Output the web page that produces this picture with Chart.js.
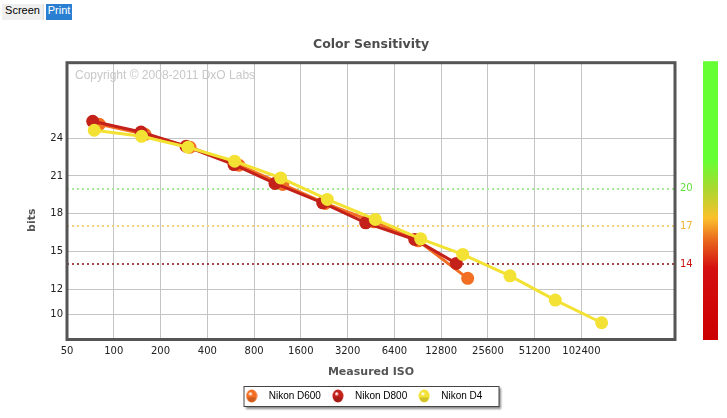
<!DOCTYPE html>
<html><head><meta charset="utf-8">
<script src="https://cdn.jsdelivr.net/npm/chart.js@4/dist/chart.umd.min.js"></script>
<style>
html,body{margin:0;padding:0;background:#fff;width:727px;height:418px;overflow:hidden;}
#wrap{position:relative;width:727px;height:418px;}
#c{position:absolute;left:0;top:0;}
.btn{position:absolute;top:4px;height:16px;line-height:16px;font:11px "Liberation Sans",Arial,sans-serif;text-align:center;}
#scr{left:2px;width:41px;background:#efefef;color:#000;border-right:1px solid #dcdcdc;}
#prt{left:46px;width:26px;background:#2a7fd2;color:#fff;}
</style></head><body>
<div id="wrap"><canvas id="c" width="727" height="418"></canvas>
<div class="btn" id="scr">Screen</div><div class="btn" id="prt">Print</div></div>
<script>
// ---- data ----
const seriesNames = ['Nikon D600', 'Nikon D800', 'Nikon D4'];
const isoD600  = [80.7, 158.8, 309.5, 640, 1223, 2299, 4731, 9121, 18965];
const bitsD600 = [25.10, 24.31, 23.28, 21.85, 20.32, 18.81, 17.35, 15.84, 12.86];
const isoD800  = [73.2, 149.7, 291.7, 594, 1090, 2212, 4183, 8647, 16020];
const bitsD800 = [25.34, 24.49, 23.36, 21.90, 20.40, 18.86, 17.27, 15.95, 14.05];
const isoD4    = [74.9, 151, 300, 600, 1187, 2368, 4823, 9454, 17620, 35500, 69450, 138100];
const bitsD4   = [24.63, 24.15, 23.28, 22.17, 20.84, 19.13, 17.54, 16.00, 14.76, 13.06, 11.13, 9.33];
const xTicks = [50, 100, 200, 400, 800, 1600, 3200, 6400, 12800, 25600, 51200, 102400];
const yTicks = [10, 12, 15, 18, 21, 24];
const thresholds = [20, 17, 14];

// ---- styles ----
const colors = ['#F26E22', '#C3211A', '#F3E233'];
const thrLine = ['#a6ec98', '#f5d27a', '#8b0a0a'];
const thrWidth = [2, 2, 1.3];
const thrText = ['#62dd3c', '#f0b631', '#c81414'];

function sphere(color) {
  const c = document.createElement('canvas');
  c.width = 12; c.height = 14;
  const g = c.getContext('2d');
  const grd = g.createRadialGradient(4.5, 4.5, 0.5, 6, 7, 7.5);
  grd.addColorStop(0, 'rgba(255,255,255,0.9)');
  grd.addColorStop(0.25, color);
  grd.addColorStop(1, color);
  g.fillStyle = grd;
  g.beginPath(); g.ellipse(6, 7, 5.5, 6.5, 0, 0, Math.PI * 2); g.fill();
  g.fillStyle = 'rgba(0,0,0,0.15)';
  g.beginPath(); g.ellipse(6, 8.5, 4.5, 4.5, 0, 0, Math.PI); g.fill();
  return c;
}
const markers = colors.map(sphere);

function mk(i, xs, ys, order) {
  return {
    label: seriesNames[i],
    data: xs.map((x, k) => ({x: x, y: ys[k]})),
    borderColor: colors[i], backgroundColor: colors[i],
    borderWidth: 3, pointRadius: 6.5, pointHoverRadius: 6.5, pointBorderWidth: 0,
    pointBackgroundColor: colors[i], tension: 0, order: order
  };
}

const LEG_H = 32;
const decor = {
  id: 'decor',
  beforeLayout(chart) {
    const lg = chart.legend;
    if (lg && !lg._patched) {
      const f = lg.fit.bind(lg);
      lg.fit = function () { f(); this.height = LEG_H; };
      lg._patched = true;
    }
  },
  afterLayout(chart) {
    if (chart.legend) { chart.legend.left -= 10; chart.legend.right -= 10; }
  },
  beforeDraw(chart) {
    const ctx = chart.ctx, a = chart.chartArea;
    const cx = (a.left + a.right) / 2;
    const top = chart.legend.top;
    ctx.save();
    ctx.shadowColor = 'rgba(0,0,0,0.45)'; ctx.shadowOffsetX = 2; ctx.shadowOffsetY = 2; ctx.shadowBlur = 2;
    ctx.fillStyle = '#fff';
    ctx.fillRect(cx - 127.5, top, 255.5, 21);
    ctx.restore();
    ctx.save();
    ctx.strokeStyle = '#444'; ctx.lineWidth = 1;
    ctx.strokeRect(cx - 127.5 + 0.5, top + 0.5, 255, 20);
    ctx.restore();
  },
  beforeDatasetsDraw(chart) {
    const ctx = chart.ctx, a = chart.chartArea, y = chart.scales.y;
    ctx.save();
    ctx.fillStyle = '#c8c8c8';
    ctx.font = '12px "Liberation Sans", Arial, sans-serif';
    ctx.textBaseline = 'middle';
    ctx.fillText('Copyright \u00a9 2008-2011 DxO Labs', a.left + 8, a.top + 13);
    ctx.setLineDash([2, 3]);
    thresholds.forEach((t, i) => {
      const py = Math.round(y.getPixelForValue(t));
      ctx.strokeStyle = thrLine[i];
      ctx.lineWidth = thrWidth[i];
      ctx.beginPath(); ctx.moveTo(a.left, py); ctx.lineTo(a.right, py); ctx.stroke();
    });
    ctx.restore();
  },
  afterDatasetsDraw(chart) {
    const ctx = chart.ctx, a = chart.chartArea;
    ctx.save();
    ctx.strokeStyle = '#555'; ctx.lineWidth = 3;
    ctx.strokeRect(a.left, a.top, a.right - a.left, a.bottom - a.top);
    ctx.restore();
  },
  afterDraw(chart) {
    const ctx = chart.ctx, a = chart.chartArea, y = chart.scales.y;
    ctx.save();
    ctx.font = '10px "DejaVu Sans", sans-serif';
    ctx.textBaseline = 'middle';
    ctx.textAlign = 'left';
    thresholds.forEach((t, i) => {
      ctx.fillStyle = thrText[i];
      ctx.fillText(String(t), a.right + 5, y.getPixelForValue(t));
    });
    const bx = a.right + 28, bt = a.top - 1.5, bb = a.bottom + 0.5;
    const g = ctx.createLinearGradient(0, bt, 0, bb);
    g.addColorStop(0, '#66ff33');
    g.addColorStop(0.355, '#66ff33');
    g.addColorStop(0.455, '#a8d830');
    g.addColorStop(0.563, '#fbc02d');
    g.addColorStop(0.649, '#e8601c');
    g.addColorStop(0.742, '#d41010');
    g.addColorStop(1, '#cc0000');
    ctx.fillStyle = g;
    ctx.fillRect(bx, bt, 15, bb - bt);
    ctx.restore();
  }
};

new Chart(document.getElementById('c'), {
  type: 'line',
  data: {
    datasets: [
      mk(0, isoD600, bitsD600, 3),
      mk(1, isoD800, bitsD800, 2),
      mk(2, isoD4, bitsD4, 1)
    ]
  },
  options: {
    responsive: false, animation: false, events: [],
    layout: {padding: {left: 22, right: 52, top: 0, bottom: 0}},
    plugins: {
      tooltip: {enabled: false},
      title: {
        display: true, text: 'Color Sensitivity', fullSize: false, color: '#4d4d4d',
        font: {family: 'DejaVu Sans', size: 12.5, weight: 'bold'},
        padding: {top: 37, bottom: 10.7}
      },
      legend: {
        display: true, position: 'bottom', fullSize: false,
        labels: {
          usePointStyle: true, pointStyleWidth: 24, boxHeight: 10, padding: 5,
          color: '#000', font: {family: 'Liberation Sans', size: 10},
          generateLabels: (chart) => chart.data.datasets.map((d, i) => ({
            text: d.label, fillStyle: colors[i], strokeStyle: colors[i], lineWidth: 0,
            pointStyle: markers[i], datasetIndex: i, hidden: false
          }))
        }
      }
    },
    scales: {
      x: {
        type: 'logarithmic', min: 50, max: 409600,
        afterBuildTicks: (s) => { s.ticks = xTicks.map(v => ({value: v})); },
        afterFit: (s) => { s.height = 46.5; },
        ticks: {
          autoSkip: false, maxRotation: 0, minRotation: 0, padding: 6, color: '#222',
          font: {family: 'DejaVu Sans', size: 10},
          callback: (v) => String(v)
        },
        grid: {color: '#c4c4c4', lineWidth: 1, drawTicks: false},
        border: {display: false},
        title: {
          display: true, text: 'Measured ISO', color: '#555',
          font: {family: 'DejaVu Sans', size: 11, weight: 'bold'},
          padding: {top: 4, bottom: 7.7}
        }
      },
      y: {
        type: 'linear', min: 8, max: 30,
        afterBuildTicks: (s) => { s.ticks = yTicks.map(v => ({value: v})); },
        afterFit: (s) => { s.width = 45; },
        ticks: {
          padding: 4, color: '#222', font: {family: 'DejaVu Sans', size: 10},
          callback: (v) => String(v)
        },
        grid: {color: '#c4c4c4', lineWidth: 1, drawTicks: false},
        border: {display: false},
        title: {
          display: true, text: 'bits          ', color: '#555',
          font: {family: 'DejaVu Sans', size: 11, weight: 'bold'},
          padding: {top: 4, bottom: 4}
        }
      }
    }
  },
  plugins: [decor]
});
</script>
</body></html>
